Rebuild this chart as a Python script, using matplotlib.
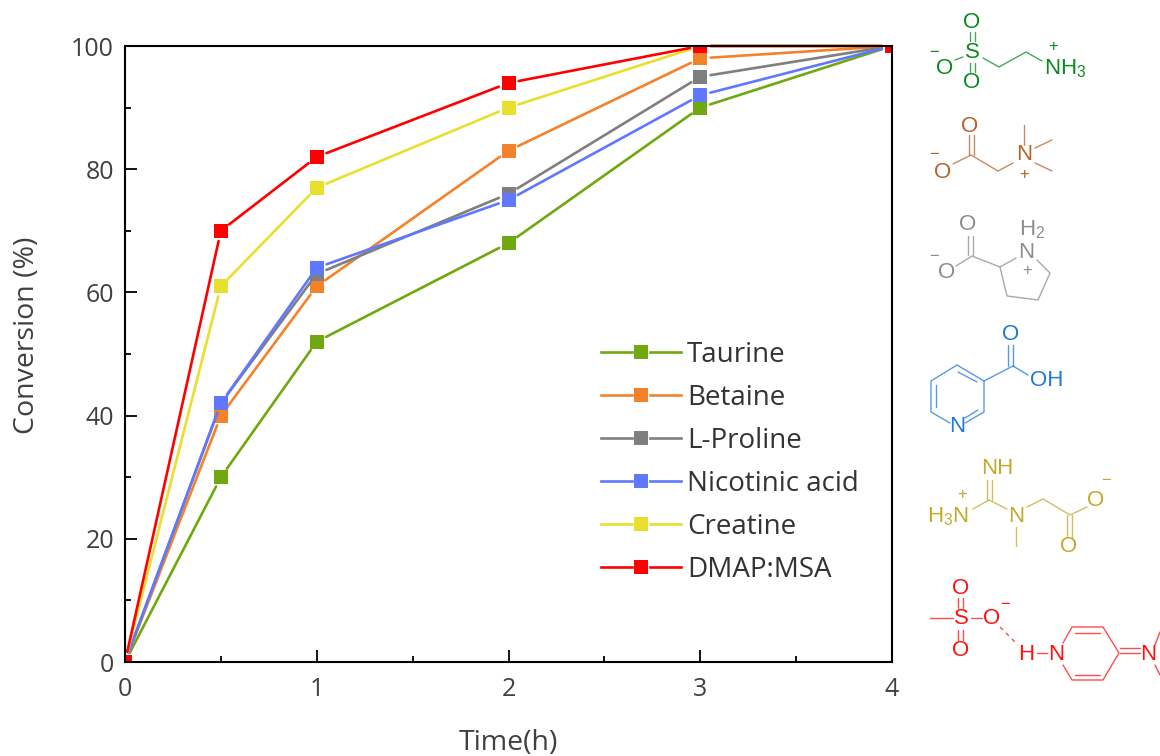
import matplotlib
matplotlib.use("Agg")
import matplotlib.pyplot as plt
from matplotlib.legend_handler import HandlerBase
from matplotlib.lines import Line2D

time_h = [0, 0.5, 1, 2, 3, 4]
taurine = [0, 30, 52, 68, 90, 100]
betaine = [0, 40, 61, 83, 98, 100]
proline = [0, 42, 63, 76, 95, 100]
nicotinic = [0, 42, 64, 75, 92, 100]
creatine = [0, 61, 77, 90, 100, 100]
dmap_msa = [0, 70, 82, 94, 100, 100]
names = ["Taurine", "Betaine", "L-Proline", "Nicotinic acid", "Creatine", "DMAP:MSA"]
series = [taurine, betaine, proline, nicotinic, creatine, dmap_msa]
colors = ["#6FA80F", "#F4822A", "#7F7F7F", "#5F78FF", "#E8DF2F", "#FF0000"]

W, H = 1160, 756
plt.rcParams["font.family"] = ["Open Sans", "DejaVu Sans"]
plt.rcParams["mathtext.default"] = "regular"
TXT = "#404040"
fig = plt.figure(figsize=(W / 100, H / 100), dpi=100)
ax = fig.add_axes([125 / W, 1 - 662 / H, (892 - 125) / W, (662 - 46) / H])

handles = []
for i, (name, vals, col) in enumerate(zip(names, series, colors)):
    for k in range(len(time_h) - 1):
        ax.annotate("", xy=(time_h[k + 1], vals[k + 1]), xytext=(time_h[k], vals[k]),
                    arrowprops=dict(arrowstyle="-", color=col, lw=1.9, shrinkA=7.5, shrinkB=7.5),
                    zorder=3 + i * 0.1)
    h, = ax.plot(time_h, vals, ls="none", color=col, marker="s", ms=9.6, mew=0,
                 label=name, clip_on=True, zorder=3 + i * 0.1)
    handles.append(h)

ax.set_xlim(0, 4)
ax.set_ylim(0, 100)
ax.set_xticks([0, 1, 2, 3, 4])
ax.set_xticks([0.5, 1.5, 2.5, 3.5], minor=True)
ax.set_yticks(range(0, 101, 20))
ax.set_yticks(range(10, 100, 20), minor=True)
ax.tick_params(which="major", direction="in", length=8.5, width=1.3, labelsize=18,
               labelcolor=TXT)
ax.tick_params(axis="x", which="major", pad=11)
ax.tick_params(axis="y", which="major", pad=8)
ax.tick_params(which="minor", direction="in", length=4.5, width=1.3)
for s in ax.spines.values():
    s.set_linewidth(1.5)
    s.set_zorder(10)
ax.set_xlabel("Time(h)", fontsize=20.5, color=TXT, va="center")
ax.xaxis.set_label_coords(0.5, -(743 - 662) / 616)
ax.set_ylabel("Conversion (%)", fontsize=20.5, color=TXT, va="center")
ax.yaxis.set_label_coords(-(125 - 27) / 767, (662 - 335) / 616)


class GapLine(HandlerBase):
    def create_artists(self, legend, orig, x0, y0, width, height, fontsize, trans):
        col = orig.get_color()
        y = y0 + height / 2
        mid = x0 + width / 2
        gap = 6.5
        left = Line2D([x0, mid - gap], [y, y], color=col, lw=1.9, transform=trans)
        right = Line2D([mid + gap, x0 + width], [y, y], color=col, lw=1.9, transform=trans)
        mark = Line2D([mid], [y], ls="none", marker="s", ms=9.6, mew=0, color=col, transform=trans)
        return [left, right, mark]


fig.legend(handles, names, handler_map={Line2D: GapLine()}, loc="upper left",
           bbox_to_anchor=(601 / W, 1 - 341 / H), bbox_transform=fig.transFigure,
           frameon=False, fontsize=20, labelcolor="#333333", handlelength=2.88,
           handletextpad=0.22, labelspacing=0.54, borderpad=0, borderaxespad=0)

# Chemical structures, drawn on an overlay in pixel coordinates
ov = fig.add_axes([0, 0, 1, 1], facecolor="none")
ov.set_xlim(0, W)
ov.set_ylim(H, 0)
ov.axis("off")


def bonds(col, segs, lw=1.0, **kw):
    for pts in segs:
        ov.plot([p[0] for p in pts], [p[1] for p in pts], color=col, lw=lw, alpha=0.75,
                solid_capstyle="round", clip_on=True, **kw)


def t(x, y, s, col, size=16, ha="center"):
    ov.text(x, y, s, color=col, fontsize=size, ha=ha, va="center",
            family=["Liberation Sans", "DejaVu Sans"])


# Taurine
c = "#0A8A1E"
bonds(c, [[(955, 60), (963, 57)], [(983, 58), (999, 67), (1026, 52), (1042, 61)],
          [(969.5, 32), (969.5, 41)], [(975, 32), (975, 41)],
          [(969.5, 63), (969.5, 72)], [(975, 63), (975, 72)]])
t(945, 68, "O", c); t(972, 53, "S", c); t(972, 22, "O", c); t(972, 83, "O", c)
t(1044, 69, "NH$_3$", c, ha="left"); t(1053, 47, "+", c, 12); t(934, 53, "\u2212", c, 12)

# Betaine
c = "#B8622A"
bonds(c, [[(968.5, 135), (968.5, 155)], [(973.5, 135), (973.5, 155)],
          [(953, 164), (971, 155), (998, 171), (1013, 163)],
          [(1024, 125), (1024, 145)], [(1035, 148), (1052, 140)], [(1035, 163), (1052, 171)]])
t(970, 126, "O", c); t(943, 172, "O", c); t(1024, 155, "N", c)
t(1024, 175, "+", c, 12); t(934, 154, "\u2212", c, 12)

# L-Proline
c = "#8C8C8C"
bonds(c, [[(968, 236), (968, 255)], [(973, 236), (973, 255)],
          [(956, 266), (972, 256), (1000, 267), (1016, 258)],
          [(1037, 260), (1050, 273), (1038, 300), (1007, 296), (1000, 267)]])
t(968, 224, "O", c); t(947, 273, "O", c); t(1026, 253, "N", c)
t(1032, 230, "H$_2$", c); t(1027, 271, "+", c, 12); t(934, 256, "\u2212", c, 12)

# Nicotinic acid
c = "#1F78D8"
bonds(c, [[(1008, 345), (1008, 366)], [(1013, 345), (1013, 366)],
          [(1028, 375), (1013, 366), (984, 381)],
          [(950, 423), (931, 412), (931, 381), (957, 365), (984, 381), (984, 412), (965, 423)],
          [(936, 385), (936, 407)], [(958, 372), (977, 382)], [(965, 418), (978, 410)]])
t(1011, 335, "O", c); t(1030, 381, "OH", c, ha="left"); t(957, 427, "N", c)

# Creatine
c = "#C2A92A"
bonds(c, [[(987, 480), (987, 500)], [(992, 480), (992, 500)],
          [(973, 509), (989, 500), (1007, 509)],
          [(1027, 507), (1043, 499), (1070, 515), (1087, 507)],
          [(1067, 515), (1067, 537)], [(1072, 515), (1072, 537)], [(1016, 527), (1016, 546)]])
t(997, 469, "NH", c); t(969, 517, "H$_3$N", c, ha="right"); t(962, 495, "+", c, 12)
t(1016, 517, "N", c); t(1096, 500, "O", c); t(1106, 481, "\u2212", c, 12); t(1069, 546, "O", c)

# DMAP:MSA
c = "#FF1010"
bonds(c, [[(930, 618), (953, 618)], [(958, 598), (958, 608)], [(963, 598), (963, 608)],
          [(958, 630), (958, 640)], [(963, 630), (963, 640)], [(971, 618), (982, 618)],
          [(1037, 653), (1047, 653)],
          [(1063, 643), (1072, 627), (1103, 627), (1119, 653), (1103, 680), (1072, 680), (1063, 665)],
          [(1075, 633), (1100, 633)], [(1075, 675), (1100, 675)],
          [(1120, 648), (1140, 648)], [(1120, 653), (1140, 653)],
          [(1155, 645), (1160, 632)], [(1155, 665), (1160, 675)]])
bonds(c, [[(1000, 627), (1018, 645)]], linestyle=(0, (3, 3)))
t(961, 619, "S", c); t(961, 588, "O", c); t(961, 650, "O", c); t(992, 619, "O", c)
t(1005, 604, "\u2212", c, 12); t(1026, 654, "H", c); t(1056, 654, "N", c); t(1148, 654, "N", c)

fig.savefig("out.png", dpi=100)
